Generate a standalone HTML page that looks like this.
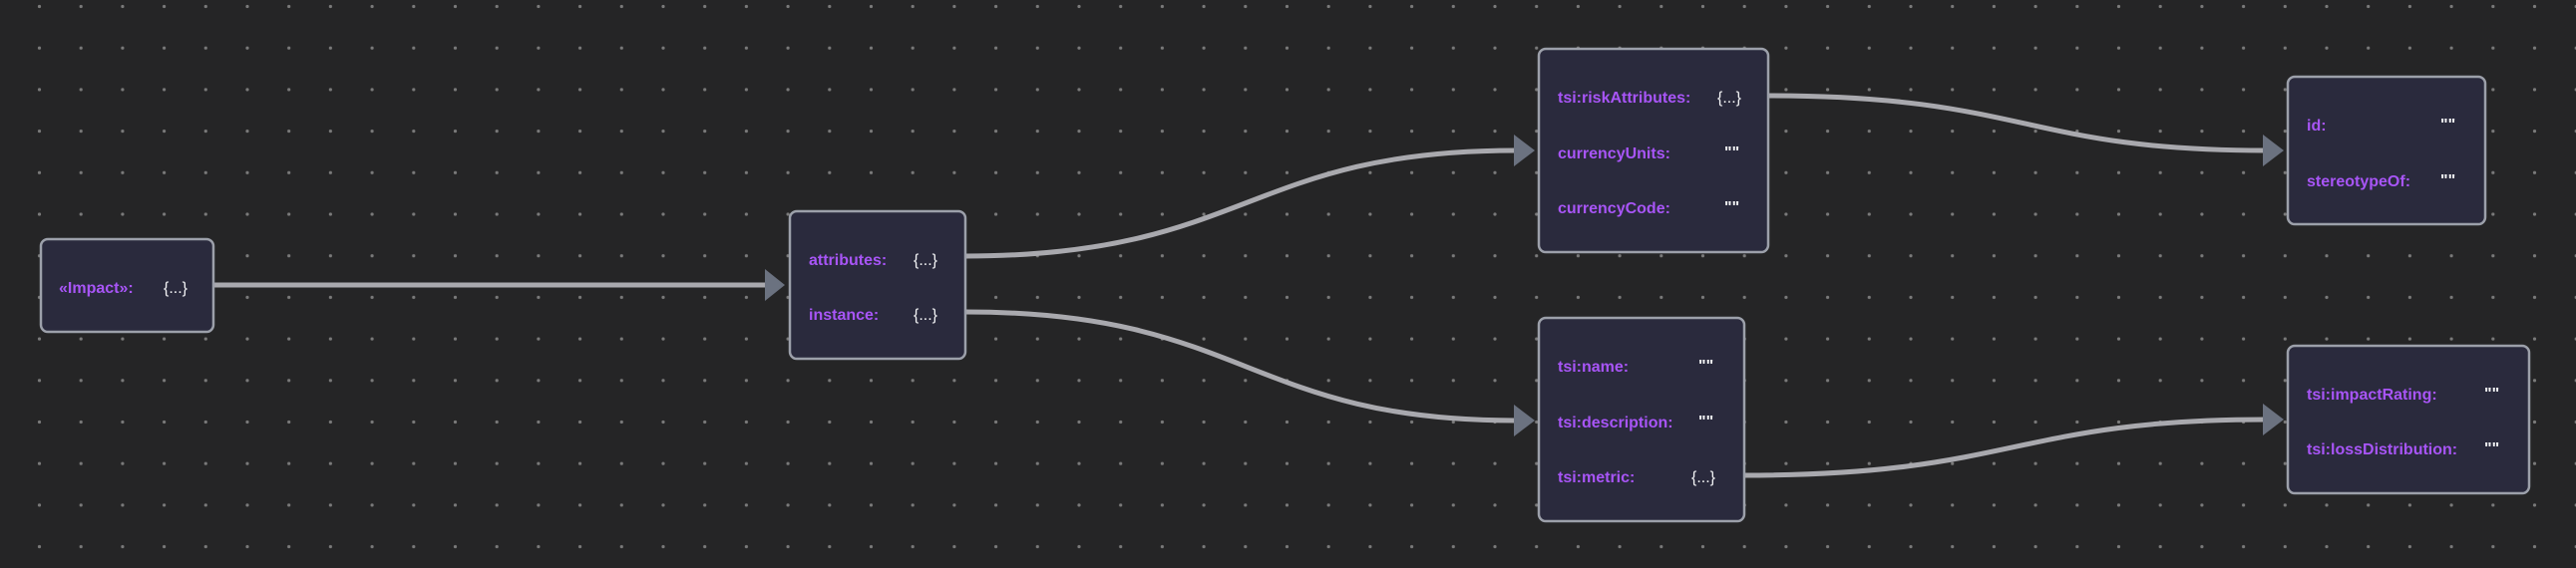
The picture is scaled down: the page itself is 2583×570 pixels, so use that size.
<!DOCTYPE html>
<html><head><meta charset="utf-8"><style>
html,body{margin:0;padding:0;background:#252526;}
svg{display:block}
.l{fill:#a855f7;font-family:"Liberation Sans",sans-serif;font-size:16px;font-weight:600}
.v{fill:#f3f4f6;font-family:"Liberation Sans",sans-serif;font-size:16px}
.q{fill:#f3f4f6;font-family:"Liberation Sans",sans-serif;font-size:16px;font-weight:bold}
.n{fill:#2a2a3d;stroke:#9ca0aa;stroke-width:2.5}
.e{fill:none;stroke:#a9a9ae;stroke-width:5}
.a{fill:#6b7280}
</style></head><body>
<svg width="2583" height="570" xmlns="http://www.w3.org/2000/svg">
<defs><pattern id="d" x="39.5" y="6.5" width="41.7" height="41.7" patternUnits="userSpaceOnUse"><circle cx="0" cy="0" r="1.6" fill="#7a7a7a"/><circle cx="41.7" cy="0" r="1.6" fill="#7a7a7a"/><circle cx="0" cy="41.7" r="1.6" fill="#7a7a7a"/><circle cx="41.7" cy="41.7" r="1.6" fill="#7a7a7a"/></pattern></defs>
<rect width="2583" height="570" fill="#252526"/>
<rect width="2583" height="570" fill="url(#d)"/>

<path class="e" d="M214 286 L770 286"/>
<polygon class="a" points="767,270 787,286 767,302"/>
<path class="e" d="M968 257 C1250 257 1250 151 1520 151"/>
<polygon class="a" points="1518,135 1539,151 1518,167"/>
<path class="e" d="M968 313 C1250 313 1250 422 1520 422"/>
<polygon class="a" points="1518,406 1539,422 1518,438"/>
<path class="e" d="M1773 96 C2030 96 2030 151 2272 151"/>
<polygon class="a" points="2269,135 2290,151 2269,167"/>
<path class="e" d="M1749 477 C2020 477 2020 421 2272 421"/>
<polygon class="a" points="2269,405 2290,421 2269,437"/>

<rect class="n" x="41" y="240" width="173" height="93" rx="7"/>
<text class="l" x="59" y="294">«Impact»:</text><text class="v" x="164" y="294">{...}</text>

<rect class="n" x="792" y="212" width="176" height="148" rx="7"/>
<text class="l" x="811" y="266">attributes:</text><text class="v" x="916" y="266">{...}</text>
<text class="l" x="811" y="321">instance:</text><text class="v" x="916" y="321">{...}</text>

<rect class="n" x="1543" y="49" width="230" height="204" rx="7"/>
<text class="l" x="1562" y="103">tsi:riskAttributes:</text><text class="v" x="1722" y="103">{...}</text>
<text class="l" x="1562" y="159">currencyUnits:</text><text class="q" x="1729" y="158">""</text>
<text class="l" x="1562" y="214">currencyCode:</text><text class="q" x="1729" y="213">""</text>

<rect class="n" x="1543" y="319" width="206" height="204" rx="7"/>
<text class="l" x="1562" y="373">tsi:name:</text><text class="q" x="1703" y="372">""</text>
<text class="l" x="1562" y="429">tsi:description:</text><text class="q" x="1703" y="428">""</text>
<text class="l" x="1562" y="484">tsi:metric:</text><text class="v" x="1696" y="484">{...}</text>

<rect class="n" x="2294" y="77" width="198" height="148" rx="7"/>
<text class="l" x="2313" y="131">id:</text><text class="q" x="2447" y="130">""</text>
<text class="l" x="2313" y="187">stereotypeOf:</text><text class="q" x="2447" y="186">""</text>

<rect class="n" x="2294" y="347" width="242" height="148" rx="7"/>
<text class="l" x="2313" y="401">tsi:impactRating:</text><text class="q" x="2491" y="400">""</text>
<text class="l" x="2313" y="456">tsi:lossDistribution:</text><text class="q" x="2491" y="455">""</text>
</svg>
</body></html>
